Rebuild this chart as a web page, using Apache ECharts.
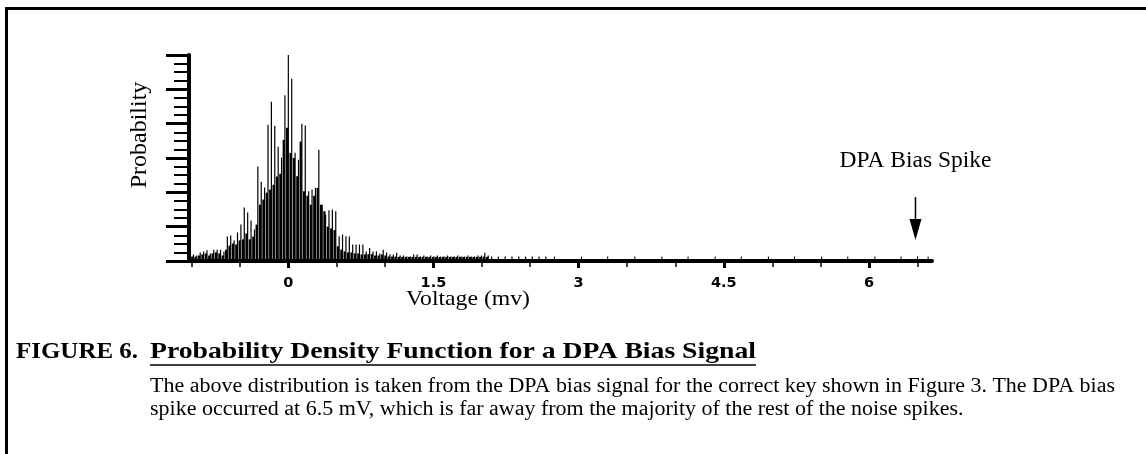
<!DOCTYPE html>
<html><head><meta charset="utf-8">
<script src="https://cdn.jsdelivr.net/npm/echarts@6/dist/echarts.min.js"></script>
<style>html,body{margin:0;padding:0;background:#fff}#c{width:1146px;height:454px}</style>
</head><body><div id="c"></div>
<script>
// ---- data (voltage in mV, probability in relative units) ----
const binStart = -0.98;      // first histogram bin (mV)
const binStep = 0.035;       // bin spacing (mV)
const spikeVals = [
  0.19,0.16,0.25,0.28,0.31,0.22,0.33,0.33,0.33,0.28,
  0.71,0.74,0.60,0.83,1.06,1.56,1.41,1.18,0.92,2.75,
  2.31,2.14,3.97,4.64,3.94,3.33,3.01,4.83,6.00,5.31,
  3.15,2.95,4.00,3.95,2.03,2.08,2.13,3.24,1.64,1.35,
  1.48,1.50,1.45,0.72,0.77,0.72,0.71,0.48,0.48,0.48,
  0.48,0.28,0.38,0.28,0.28,0.22,0.33,0.25,0.20,0.19,
  0.24,0.16,0.16,0.13,0.13,0.19,0.19,0.13,0.16,0.13,
  0.16,0.13,0.16,0.13,0.13,0.16,0.13,0.13,0.16,0.13,
  0.13,0.16,0.13,0.13,0.16,0.16,0.24,0.16,0.13,0,
  0.13,0,0.13,0,0.13,0,0.13,0,0.13,0,
  0.13,0,0.13,0,0.13,0
];
const massVals = [
  0.13,0.13,0.16,0.19,0.22,0.16,0.22,0.25,0.22,0.16,
  0.33,0.45,0.51,0.48,0.60,0.63,0.80,0.63,0.71,1.06,
  1.64,1.79,1.99,2.08,2.22,2.46,2.54,3.53,3.88,3.15,
  3.00,2.47,3.48,2.03,1.90,1.64,1.90,2.13,1.64,1.45,
  1.00,0.95,0.90,0.43,0.33,0.28,0.25,0.25,0.22,0.22,
  0.19,0.19,0.20,0.20,0.16,0.16,0.19,0.16,0.13,0.13,
  0.13,0.12,0.12,0.12,0.12,0.12,0.12,0.12,0.12,0.12,
  0.12,0.12,0.12,0.12,0.12,0.12,0.12,0.12,0.12,0.12,
  0.12,0.12,0.12,0.12,0.12,0.12,0.13,0.12,0,0,
  0,0,0,0,0,0,0,0,0,0,
  0,0,0,0,0,0
];
const tailVolts = [2.75,3.03,3.30,3.58,3.86,4.13,4.41,4.68,4.96,5.23,5.51,5.78,6.06,6.33,6.50,6.61];
const tailVals  = [0.13,0.13,0.13,0.13,0.13,0.13,0.13,0.13,0.13,0.13,0.13,0.13,0.13,0.13,0.14,0.13];
const spikeVolt = 6.5;
const xTickValues = [-1,-0.5,0,0.5,1,1.5,2,2.5,3,3.5,4,4.5,5,5.5,6,6.5];
const xLabelValues = [0,1.5,3,4.5,6];
const xMin = -1.025, xMax = 6.65;
const yMin = 0, yMax = 6, yInterval = 1;

const texts = {
  yName: 'Probability',
  xName: 'Voltage (mv)',
  spike: 'DPA Bias Spike',
  fig: 'FIGURE 6.',
  title: 'Probability Density Function for a DPA Bias Signal',
  body1: 'The above distribution is taken from the DPA bias signal for the correct key shown in Figure 3. The DPA bias',
  body2: 'spike occurred at 6.5 mV, which is far away from the majority of the rest of the noise spikes.'
};

// ---- build series data ----
const spikeData = spikeVals.map((v, i) => [+(binStart + i * binStep).toFixed(4), v]);
const massData = massVals.map((v, i) => [+(binStart + i * binStep - binStep / 2).toFixed(4), v]);
const tailData = tailVolts.map((x, i) => [x, tailVals[i]]);

const SERIF = '"Liberation Serif", "Times New Roman", serif';
const chart = echarts.init(document.getElementById('c'), null, {renderer: 'canvas'});

const fmtLabel = v => (Math.abs(v) < 1e-9 ? '0' : String(v));

chart.setOption({
  backgroundColor: '#fff',
  animation: false,
  grid: {left: 189, right: 214, top: 55, bottom: 193, containLabel: false, outerBoundsMode: 'none'},
  xAxis: [
    {
      type: 'value', min: xMin, max: xMax, position: 'bottom',
      axisLine: {show: true, onZero: false, lineStyle: {color: '#000', width: 4}},
      axisTick: {show: true, customValues: xTickValues, length: 6, lineStyle: {color: '#000', width: 1.5}},
      axisLabel: {show: false},
      splitLine: {show: false}
    },
    {
      type: 'value', min: xMin, max: xMax, position: 'bottom', offset: 0,
      axisLine: {show: false},
      axisTick: {show: true, customValues: xLabelValues, length: 7, lineStyle: {color: '#000', width: 3}},
      axisLabel: {show: true, customValues: xLabelValues, margin: 15, color: '#000',
        fontFamily: '"DejaVu Sans", sans-serif', fontWeight: 'bold', fontSize: 14.5, formatter: fmtLabel},
      splitLine: {show: false}
    }
  ],
  yAxis: {
    type: 'value', min: yMin, max: yMax, interval: yInterval,
    axisLine: {show: true, onZero: false, lineStyle: {color: '#000', width: 4}},
    axisTick: {show: true, length: 23, lineStyle: {color: '#000', width: 3}},
    minorTick: {show: true, splitNumber: 4, length: 15, lineStyle: {color: '#000', width: 2}},
    axisLabel: {show: false},
    splitLine: {show: false},
    minorSplitLine: {show: false}
  },
  series: [
    {type: 'bar', name: 'mass', xAxisIndex: 0, data: massData, barWidth: 2.2, barGap: '-100%',
      itemStyle: {color: '#000'}, silent: true},
    {type: 'bar', name: 'spike', xAxisIndex: 0, data: spikeData, barWidth: 1.2, barGap: '-100%',
      itemStyle: {color: '#000'}, silent: true},
    {type: 'bar', name: 'tail', xAxisIndex: 0, data: tailData, barWidth: 1, barGap: '-100%',
      itemStyle: {color: '#000'}, silent: true}
  ]
});

// ---- annotations and caption ----
const ax = chart.convertToPixel({xAxisIndex: 0}, spikeVolt);
const meas = document.createElement('canvas').getContext('2d');
function widthOf(str, font) { meas.font = font; return meas.measureText(str).width; }
const FIG_FONT = 'bold 24px ' + SERIF;
const BODY_FONT = '20px ' + SERIF;
const NAME_FONT = '22px ' + SERIF;
const figScale = 122 / widthOf(texts.fig, FIG_FONT);
const titleScale = 606 / widthOf(texts.title, FIG_FONT);
const bodyScale = 965 / widthOf(texts.body1, BODY_FONT);
const xNameScale = 124 / widthOf(texts.xName, NAME_FONT);
const titleW = widthOf(texts.title, FIG_FONT) * titleScale;

chart.setOption({
  graphic: [
    // frame
    {type: 'line', shape: {x1: 5, y1: 8.5, x2: 1146, y2: 8.5}, style: {stroke: '#000', lineWidth: 3}, silent: true},
    {type: 'line', shape: {x1: 6.5, y1: 7, x2: 6.5, y2: 454}, style: {stroke: '#000', lineWidth: 3}, silent: true},
    // axis names
    {type: 'text', x: 140, y: 135, rotation: Math.PI / 2,
      style: {text: texts.yName, font: '24px ' + SERIF, fill: '#000', align: 'center', verticalAlign: 'middle'}},
    {type: 'text', x: 468, y: 299, scaleX: xNameScale,
      style: {text: texts.xName, font: NAME_FONT, fill: '#000', align: 'center', verticalAlign: 'middle'}},
    // spike annotation
    {type: 'text', x: ax - 2, y: 161,
      style: {text: texts.spike, font: '23.5px ' + SERIF, fill: '#000', align: 'center', verticalAlign: 'middle'}},
    {type: 'line', shape: {x1: ax - 2, y1: 197, x2: ax - 2, y2: 226}, style: {stroke: '#000', lineWidth: 1.5}, silent: true},
    {type: 'polygon', shape: {points: [[ax - 8, 219], [ax + 4, 219], [ax - 2, 240]]}, style: {fill: '#000'}, silent: true},
    // caption
    {type: 'text', x: 16, y: 352, scaleX: figScale,
      style: {text: texts.fig, font: FIG_FONT, fill: '#000', align: 'left', verticalAlign: 'middle'}},
    {type: 'text', x: 150, y: 352, scaleX: titleScale,
      style: {text: texts.title, font: FIG_FONT, fill: '#000', align: 'left', verticalAlign: 'middle'}},
    {type: 'line', shape: {x1: 150, y1: 365, x2: 150 + titleW, y2: 365}, style: {stroke: '#000', lineWidth: 1.5}, silent: true},
    {type: 'text', x: 150, y: 387, scaleX: bodyScale,
      style: {text: texts.body1, font: BODY_FONT, fill: '#000', align: 'left', verticalAlign: 'middle'}},
    {type: 'text', x: 150, y: 410, scaleX: bodyScale,
      style: {text: texts.body2, font: BODY_FONT, fill: '#000', align: 'left', verticalAlign: 'middle'}}
  ]
});
</script></body></html>
